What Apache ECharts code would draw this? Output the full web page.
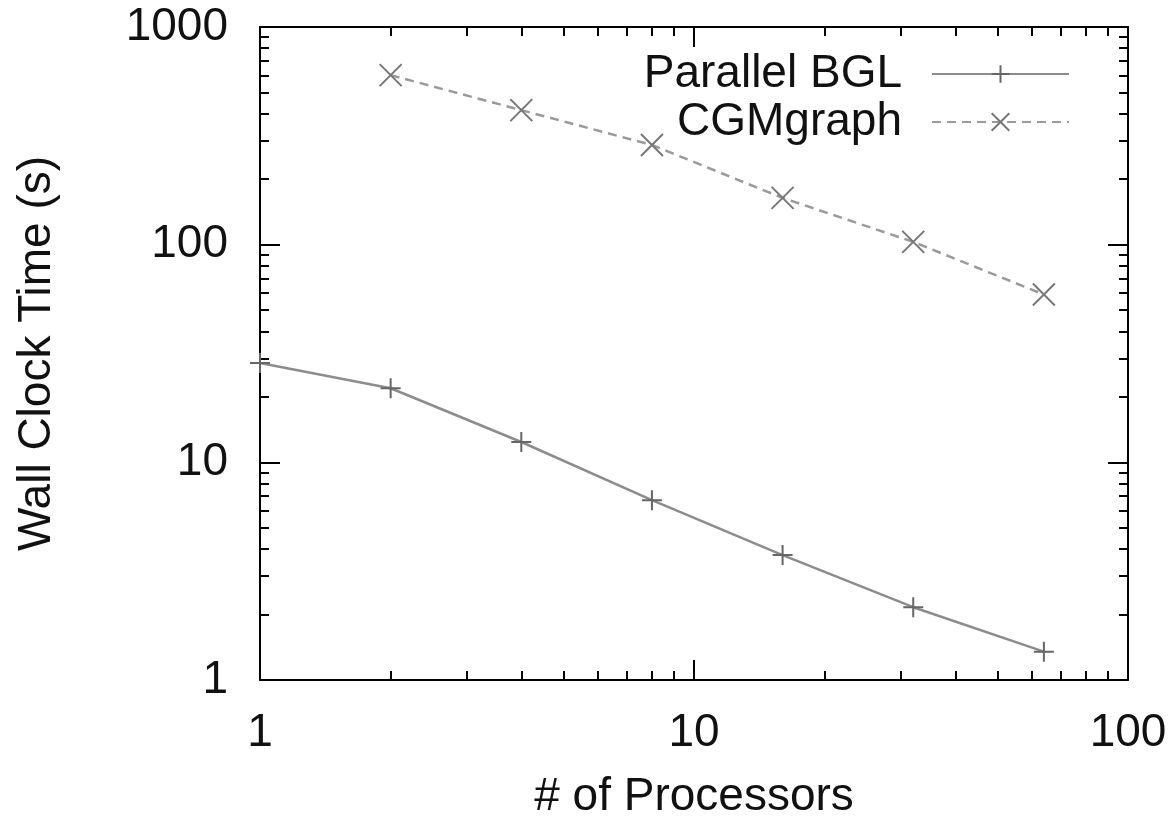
<!DOCTYPE html>
<html>
<head>
<meta charset="utf-8">
<script src="https://cdn.jsdelivr.net/npm/echarts@6/dist/echarts.min.js"></script>
<style>
html,body{margin:0;padding:0;background:#fff;}
#chart{width:1173px;height:819px;}
</style>
</head>
<body>
<div id="chart"></div>
<script>
// ---- data ----
const processors = [1, 2, 4, 8, 16, 32, 64];
const parallelBGL = [28.6, 21.9, 12.4, 6.7, 3.75, 2.16, 1.35];
const cgmProcessors = [2, 4, 8, 16, 32, 64];
const cgmGraph = [601, 415, 287, 164, 103, 59];
const xMinorTicks = [2,3,4,5,6,7,8,9,20,30,40,50,60,70,80,90];
const yMinorTicks = [2,3,4,5,6,7,8,9,20,30,40,50,60,70,80,90,200,300,400,500,600,700,800,900];
const seriesNames = ['Parallel BGL', 'CGMgraph'];

const FONT = '"Liberation Sans", Arial, Helvetica, sans-serif';
const TXT = '#111';
const FS = 46;
const plusPath = 'path://M10,0 L10,20 M0,10 L20,10';
const crossPath = 'path://M0,0 L20,20 M20,0 L0,20';

function majorAxis(pos, showLabel, extra) {
  return Object.assign({
    type: 'log', logBase: 10, position: pos, gridIndex: 0,
    axisLine: { show: true, onZero: false, lineStyle: { color: '#000', width: 2 } },
    axisTick: { show: true, inside: true, length: 20, lineStyle: { color: '#000', width: 2 } },
    axisLabel: { show: showLabel, fontSize: FS, color: TXT, fontFamily: FONT },
    splitLine: { show: false },
    minorTick: { show: false }
  }, extra);
}
function minorAxis(pos, customVals, extra) {
  return Object.assign({
    type: 'log', logBase: 10, position: pos, gridIndex: 0,
    axisLine: { show: false },
    axisTick: { show: true, inside: true, length: 9, customValues: customVals, lineStyle: { color: '#000', width: 2 } },
    axisLabel: { show: false },
    splitLine: { show: false }
  }, extra);
}
const plainFmt = v => String(Math.round(v));

const chart = echarts.init(document.getElementById('chart'), null, { renderer: 'canvas' });
chart.setOption({
  backgroundColor: '#fff',
  animation: false,
  textStyle: { fontFamily: FONT },
  grid: { left: 260, right: 45, top: 27, bottom: 139, containLabel: false, outerBoundsMode: 'none' },
  legend: {
    orient: 'vertical', right: 98, top: 46, align: 'right',
    itemWidth: 137, itemHeight: 22, itemGap: 2,
    data: seriesNames,
    textStyle: { fontSize: FS, color: TXT, fontFamily: FONT, lineHeight: 46, padding: [0, 25, 0, 0] }
  },
  xAxis: [
    majorAxis('bottom', true, { min: 1, max: 100,
      axisLabel: { show: true, fontSize: FS, color: TXT, fontFamily: FONT, margin: 30, formatter: plainFmt },
      name: '# of Processors', nameLocation: 'middle', nameGap: 94,
      nameTextStyle: { fontSize: FS, color: TXT, fontFamily: FONT } }),
    majorAxis('top', false, { min: 1, max: 100 }),
    minorAxis('bottom', xMinorTicks, { min: 1, max: 100 }),
    minorAxis('top', xMinorTicks, { min: 1, max: 100 })
  ],
  yAxis: [
    majorAxis('left', true, { min: 1, max: 1000,
      axisLabel: { show: true, fontSize: FS, color: TXT, fontFamily: FONT, margin: 32, formatter: plainFmt },
      name: 'Wall Clock Time (s)', nameLocation: 'middle', nameGap: 200, nameRotate: 90,
      nameTextStyle: { fontSize: FS, color: TXT, fontFamily: FONT } }),
    majorAxis('right', false, { min: 1, max: 1000 }),
    minorAxis('left', yMinorTicks, { min: 1, max: 1000 }),
    minorAxis('right', yMinorTicks, { min: 1, max: 1000 })
  ],
  series: [
    {
      name: seriesNames[0], type: 'line', xAxisIndex: 0, yAxisIndex: 0,
      data: processors.map((p, i) => [p, parallelBGL[i]]),
      symbol: plusPath, symbolSize: 20, showSymbol: true,
      lineStyle: { color: '#8c8c8c', width: 2.5, type: 'solid' },
      itemStyle: { color: 'transparent', borderColor: '#666', borderWidth: 2 },
      emphasis: { disabled: true }
    },
    {
      name: seriesNames[1], type: 'line', xAxisIndex: 0, yAxisIndex: 0,
      data: cgmProcessors.map((p, i) => [p, cgmGraph[i]]),
      symbol: crossPath, symbolSize: 22, showSymbol: true,
      lineStyle: { color: '#9a9a9a', width: 2.5, type: [9, 6] },
      itemStyle: { color: 'transparent', borderColor: '#777', borderWidth: 2 },
      emphasis: { disabled: true }
    }
  ]
});
</script>
</body>
</html>
